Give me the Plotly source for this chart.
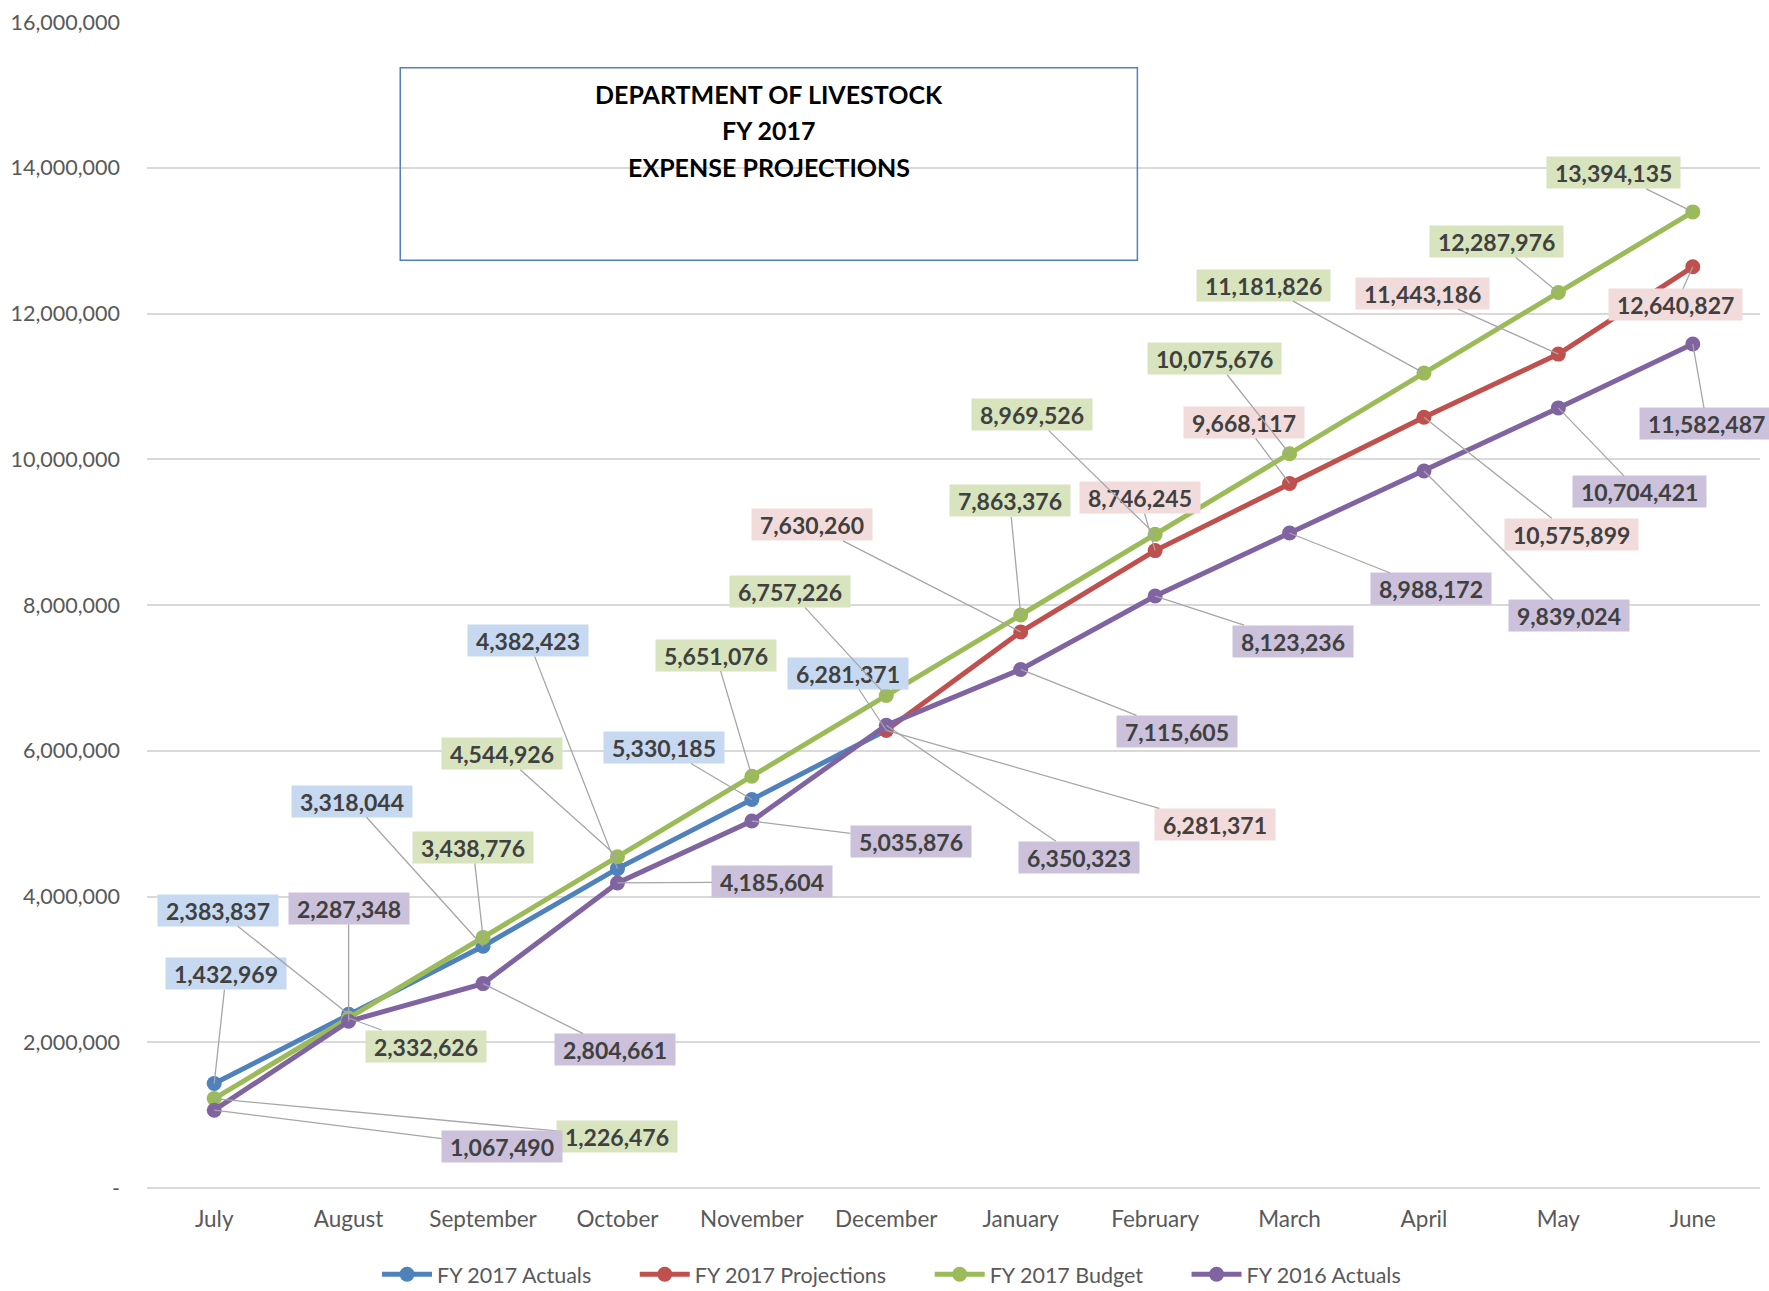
import plotly.graph_objects as go

months = ["July", "August", "September", "October", "November", "December",
          "January", "February", "March", "April", "May", "June"]

fy2017_actuals = [1432969, 2383837, 3318044, 4382423, 5330185, 6281371,
                  None, None, None, None, None, None]
fy2017_projections = [None, None, None, None, None, 6281371,
                      7630260, 8746245, 9668117, 10575899, 11443186, 12640827]
fy2017_budget = [1226476, 2332626, 3438776, 4544926, 5651076, 6757226,
                 7863376, 8969526, 10075676, 11181826, 12287976, 13394135]
fy2016_actuals = [1067490, 2287348, 2804661, 4185604, 5035876, 6350323,
                  7115605, 8123236, 8988172, 9839024, 10704421, 11582487]

y_tickvals = [0, 2000000, 4000000, 6000000, 8000000, 10000000, 12000000, 14000000, 16000000]
y_ticktext = ["-", "2,000,000", "4,000,000", "6,000,000", "8,000,000",
              "10,000,000", "12,000,000", "14,000,000", "16,000,000"]

title_lines = ["DEPARTMENT OF LIVESTOCK", "FY 2017", "EXPENSE PROJECTIONS"]

# label offsets (pixels) from each point to its data label box
off_actuals = [(12, -110), (-131, -104), (-131, -145), (-89, -228), (-88, -52), (-38, -57),
               None, None, None, None, None, None]
off_proj = [None, None, None, None, None, (329, 94),
            (-209, -107), (-15, -53), (-46, -61), (148, 117), (-136, -61), (-17, 38)]
off_budget = [(403, 38), (77, 28), (-10, -90), (-115, -103), (-36, -121), (-96, -104),
              (-11, -114), (-123, -120), (-75, -95), (-160, -88), (-62, -51), (-79, -39)]
off_2016 = [(288, 36), (0, -113), (132, 66), (155, -1), (159, 20), (193, 132),
            (156, 62), (138, 45), (141, 56), (145, 145), (81, 84), (14, 80)]

series = [
    ("FY 2017 Actuals", fy2017_actuals, "#4f81bd", "#c6d9f1", off_actuals),
    ("FY 2017 Projections", fy2017_projections, "#c0504d", "#f2dcdb", off_proj),
    ("FY 2017 Budget", fy2017_budget, "#9bbb59", "#d7e4bd", off_budget),
    ("FY 2016 Actuals", fy2016_actuals, "#8064a2", "#ccc1da", off_2016),
]

FONT = "Lato"
NB = "\u00a0"

fig = go.Figure()
annotations = []
for name, vals, color, fill, offs in series:
    fig.add_trace(go.Scatter(
        x=months, y=vals, name=name + NB * 7, mode="lines+markers",
        line=dict(color=color, width=5),
        marker=dict(color=color, size=15),
        connectgaps=False,
    ))
    for m, v, o in zip(months, vals, offs):
        if v is None or o is None:
            continue
        annotations.append(dict(
            x=m, y=v, xref="x", yref="y",
            text=NB + "<b>%s</b>" % f"{v:,.0f}" + NB,
            showarrow=True, arrowhead=0, arrowwidth=1.3, arrowcolor="#a6a6a6",
            ax=o[0], ay=o[1], standoff=0,
            bgcolor=fill, borderpad=2, height=27,
            font=dict(family=FONT, size=23, color="#404040"),
        ))

title_y = [0.938, 0.907, 0.876]
for line, ty in zip(title_lines, title_y):
    annotations.append(dict(
        x=0.3856, y=ty, xref="paper", yref="paper",
        text="<b>%s</b>" % line,
        showarrow=False, align="center",
        font=dict(family=FONT, size=25, color="#000000"),
        xanchor="center", yanchor="middle",
    ))

fig.update_layout(
    width=1769, height=1291,
    margin=dict(l=147, r=9, t=19, b=103),
    paper_bgcolor="white", plot_bgcolor="white",
    font=dict(family=FONT, size=21, color="#595959"),
    annotations=annotations,
    shapes=[dict(type="rect", xref="paper", yref="paper",
                 x0=0.157, x1=0.614, y0=0.7956, y1=0.9607,
                 line=dict(color="#4f81bd", width=1.5))],
    showlegend=True,
    legend=dict(orientation="h", xref="container", yref="container",
                x=0.515, y=0.013, xanchor="center", yanchor="middle",
                font=dict(family=FONT, size=21.5, color="#595959"),
                itemwidth=50, tracegroupgap=0),
)
fig.update_xaxes(
    type="category", range=[-0.5, 11.5], showgrid=False,
    showline=False, ticks="", ticklabelstandoff=15,
    tickfont=dict(family=FONT, size=22.5, color="#595959"),
)
fig.update_yaxes(
    range=[0, 16000000], tickvals=y_tickvals, ticktext=y_ticktext,
    showgrid=True, gridcolor="#d9d9d9", gridwidth=1.5,
    zeroline=True, zerolinecolor="#d9d9d9", zerolinewidth=1.5,
    ticks="", ticklabelstandoff=26,
    tickfont=dict(family=FONT, size=21.5, color="#595959"),
)

fig.write_html("out.html")
